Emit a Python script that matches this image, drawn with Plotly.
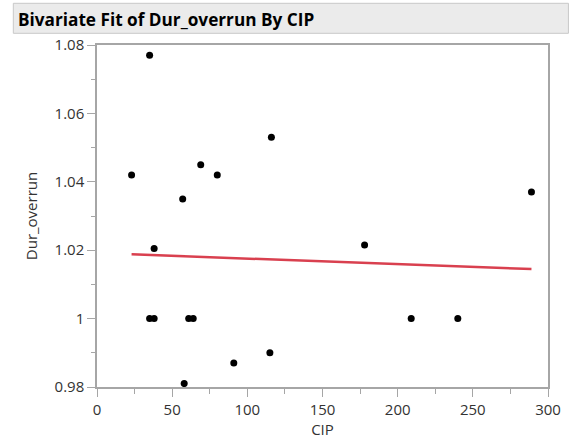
import plotly.graph_objects as go

cip = [23, 35, 35, 38, 38, 57, 58, 61, 64, 69, 80, 91, 115, 116, 178, 209, 240, 289]
dur_overrun = [1.042, 1.077, 1.0, 1.0205, 1.0, 1.035, 0.981, 1.0, 1.0, 1.045,
               1.042, 0.987, 0.990, 1.053, 1.0215, 1.0, 1.0, 1.037]
fit_x = [23, 289]
fit_y = [1.0188, 1.0145]

title_text = "Bivariate Fit of Dur_overrun By CIP"
font_family = "Open Sans, DejaVu Sans, sans-serif"
axis_col = "#a6a6a6"
text_col = "#333333"

fig = go.Figure()
fig.add_trace(go.Scatter(x=fit_x, y=fit_y, mode="lines",
                         line=dict(color="#d9404f", width=2.5), showlegend=False,
                         hoverinfo="skip"))
fig.add_trace(go.Scatter(x=cip, y=dur_overrun, mode="markers",
                         marker=dict(color="black", size=7), showlegend=False))

axis_common = dict(
    showgrid=False, zeroline=False, showline=True, linecolor=axis_col,
    linewidth=1.5, mirror=True, ticks="outside", ticklen=8, tickwidth=1,
    tickcolor=axis_col, tickfont=dict(family=font_family, size=15, color=text_col),
)

fig.update_xaxes(range=[0, 300], dtick=50, tick0=0,
                 minor=dict(dtick=25, ticks="outside", ticklen=5, tickcolor=axis_col),
                 title=dict(text="CIP", font=dict(family=font_family, size=15, color=text_col),
                            standoff=4),
                 **axis_common)
fig.update_yaxes(range=[0.98, 1.08], dtick=0.02, tick0=0.98,
                 minor=dict(dtick=0.01, ticks="outside", ticklen=4, tickcolor=axis_col),
                 title=dict(text="Dur_overrun", font=dict(family=font_family, size=15, color=text_col),
                            standoff=13),
                 **axis_common)

H = 448
top_px, bot_px = 44.7, 386.7
left_px, right_px = 97.3, 554.3
def py(p):
    return (bot_px - p) / (bot_px - top_px)
def px(p):
    return (p - left_px) / (right_px - left_px)

fig.add_shape(type="rect", xref="paper", yref="paper",
              x0=px(12.5), x1=px(575), y0=py(33), y1=py(3),
              fillcolor="#ebebeb", line=dict(color="#c8c8c8", width=1), layer="below")
fig.add_annotation(xref="paper", yref="paper", x=px(15), y=py(19),
                   xanchor="left", yanchor="middle", showarrow=False,
                   text="<b>" + title_text + "</b>",
                   font=dict(family=font_family, size=17.2, color="black"))

fig.update_layout(
    width=573, height=448,
    margin=dict(l=left_px, r=573 - right_px, t=top_px, b=H - bot_px, pad=0),
    plot_bgcolor="white", paper_bgcolor="white",
)

fig.write_html("out.html")
